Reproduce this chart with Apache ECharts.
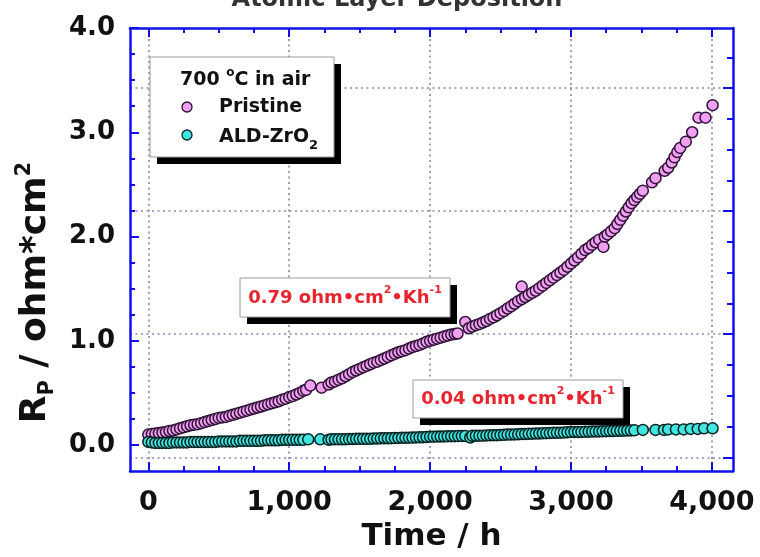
<!DOCTYPE html>
<html>
<head>
<meta charset="utf-8">
<title>Rp vs time - Atomic Layer Deposition</title>
<script src="https://cdn.jsdelivr.net/npm/echarts@6.0.0/dist/echarts.min.js"></script>
<style>
    html, body { margin: 0; padding: 0; background: #fff; }
    #rp_chart { width: 760px; height: 557px; }
</style>
</head>
<body>
<div id="rp_chart"></div>
<script>
// Pristine cell, [time h, Rp ohm*cm2]
var pristine = [
    [0, 0.10], [25, 0.105], [50, 0.11], [75, 0.115], [100, 0.12], [125, 0.125], [150, 0.135],
    [175, 0.14], [200, 0.15], [225, 0.16], [250, 0.17], [275, 0.18], [300, 0.19], [325, 0.195],
    [350, 0.20], [375, 0.21], [400, 0.22], [425, 0.23], [450, 0.24], [475, 0.25], [500, 0.26],
    [525, 0.265], [550, 0.27], [575, 0.28], [600, 0.29], [625, 0.30], [650, 0.31], [675, 0.32],
    [700, 0.33], [725, 0.34], [750, 0.35], [775, 0.36], [800, 0.37], [825, 0.38], [850, 0.39],
    [875, 0.40], [900, 0.41], [925, 0.42], [950, 0.435], [975, 0.445], [1000, 0.46],
    [1025, 0.47], [1050, 0.485], [1075, 0.50], [1100, 0.52], [1120, 0.53], [1150, 0.57],
    [1230, 0.55], [1280, 0.58], [1300, 0.60], [1325, 0.61], [1350, 0.625], [1375, 0.64],
    [1400, 0.66], [1425, 0.68], [1450, 0.70], [1475, 0.715], [1500, 0.73], [1525, 0.745],
    [1550, 0.76], [1575, 0.775], [1600, 0.79], [1625, 0.80], [1650, 0.815], [1675, 0.83],
    [1700, 0.845], [1725, 0.86], [1750, 0.875], [1775, 0.89], [1800, 0.90], [1825, 0.91],
    [1850, 0.925], [1875, 0.94], [1900, 0.95], [1925, 0.96], [1950, 0.975], [1975, 0.99],
    [2000, 1.00], [2025, 1.01], [2050, 1.02], [2075, 1.03], [2100, 1.04], [2125, 1.05],
    [2150, 1.06], [2175, 1.065], [2195, 1.07], [2250, 1.18], [2275, 1.12], [2300, 1.135],
    [2325, 1.15], [2350, 1.16], [2375, 1.175], [2400, 1.19], [2425, 1.21], [2450, 1.225],
    [2475, 1.245], [2500, 1.265], [2525, 1.285], [2550, 1.31], [2575, 1.33], [2600, 1.355],
    [2625, 1.38], [2650, 1.52], [2652, 1.40], [2675, 1.42], [2700, 1.44], [2725, 1.46],
    [2750, 1.48], [2775, 1.505], [2800, 1.53], [2825, 1.555], [2850, 1.58], [2875, 1.605],
    [2900, 1.63], [2925, 1.655], [2950, 1.68], [2975, 1.71], [3000, 1.74], [3025, 1.77],
    [3050, 1.80], [3075, 1.835], [3100, 1.87], [3125, 1.89], [3150, 1.92], [3175, 1.945],
    [3200, 1.97], [3230, 1.90], [3240, 2.00], [3260, 2.02], [3285, 2.05], [3310, 2.08],
    [3330, 2.12], [3350, 2.16], [3370, 2.20], [3390, 2.24], [3410, 2.28], [3430, 2.32],
    [3450, 2.35], [3470, 2.38], [3490, 2.41], [3510, 2.44], [3575, 2.52], [3600, 2.56],
    [3665, 2.63], [3690, 2.66], [3715, 2.71], [3735, 2.76], [3755, 2.81], [3775, 2.85],
    [3815, 2.91], [3860, 3.00], [3905, 3.14], [3955, 3.14], [4005, 3.26]
];

// ALD-ZrO2 coated cell
var aldZrO2 = [
    [0, 0.03], [25, 0.025], [50, 0.02], [75, 0.02], [100, 0.02], [125, 0.02], [150, 0.02],
    [175, 0.025], [200, 0.025], [225, 0.025], [250, 0.025], [275, 0.025], [300, 0.03],
    [325, 0.03], [350, 0.03], [375, 0.03], [400, 0.03], [425, 0.03], [450, 0.03], [475, 0.03],
    [500, 0.035], [525, 0.035], [550, 0.035], [575, 0.035], [600, 0.035], [625, 0.035],
    [650, 0.04], [675, 0.04], [700, 0.04], [725, 0.04], [750, 0.04], [775, 0.04], [800, 0.04],
    [825, 0.045], [850, 0.045], [875, 0.045], [900, 0.045], [925, 0.045], [950, 0.05],
    [975, 0.05], [1000, 0.05], [1025, 0.05], [1050, 0.05], [1075, 0.05], [1100, 0.05],
    [1135, 0.055], [1220, 0.055], [1280, 0.05], [1300, 0.055], [1325, 0.055], [1350, 0.055],
    [1375, 0.055], [1400, 0.055], [1425, 0.057], [1450, 0.058], [1475, 0.06], [1500, 0.06],
    [1525, 0.06], [1550, 0.06], [1575, 0.06], [1600, 0.062], [1625, 0.063], [1650, 0.064],
    [1675, 0.065], [1700, 0.065], [1725, 0.066], [1750, 0.067], [1775, 0.068], [1800, 0.07],
    [1825, 0.07], [1850, 0.071], [1875, 0.072], [1900, 0.073], [1925, 0.074], [1950, 0.075],
    [1975, 0.077], [2000, 0.08], [2025, 0.08], [2050, 0.081], [2075, 0.082], [2100, 0.083],
    [2125, 0.084], [2150, 0.085], [2175, 0.085], [2200, 0.086], [2225, 0.086], [2250, 0.087],
    [2285, 0.072], [2300, 0.088], [2325, 0.089], [2350, 0.09], [2375, 0.09], [2400, 0.092],
    [2425, 0.093], [2450, 0.094], [2475, 0.095], [2500, 0.097], [2525, 0.098], [2550, 0.10],
    [2575, 0.10], [2600, 0.102], [2625, 0.103], [2650, 0.105], [2675, 0.106], [2700, 0.108],
    [2725, 0.109], [2750, 0.11], [2775, 0.111], [2800, 0.113], [2825, 0.114], [2850, 0.115],
    [2875, 0.117], [2900, 0.118], [2925, 0.119], [2950, 0.12], [2975, 0.122], [3000, 0.124],
    [3025, 0.125], [3050, 0.125], [3075, 0.126], [3100, 0.127], [3125, 0.128], [3150, 0.129],
    [3175, 0.13], [3200, 0.131], [3225, 0.132], [3250, 0.133], [3275, 0.134], [3300, 0.135],
    [3325, 0.136], [3350, 0.137], [3375, 0.138], [3400, 0.139], [3425, 0.14], [3450, 0.141],
    [3510, 0.145], [3600, 0.145], [3660, 0.145], [3690, 0.15], [3745, 0.15], [3800, 0.15],
    [3850, 0.155], [3900, 0.155], [3945, 0.16], [4005, 0.16]
];

// Ticks
var xTicks = [0, 1000, 2000, 3000, 4000];
var xMinorTicks = [250, 500, 750, 1250, 1500, 1750, 2250, 2500, 2750, 3250, 3500, 3750];
var yTicks = [0, 1, 2, 3, 4];
var yMinorTicks = [0.25, 0.5, 0.75, 1.25, 1.5, 1.75, 2.25, 2.5, 2.75, 3.25, 3.5, 3.75];
// right hand axis (carries the dotted horizontal grid) uses its own scale
var gridTicks = [0, 1, 2, 3];
var gridMinorTicks = [0.25, 0.5, 0.75, 1.25, 1.5, 1.75, 2.25, 2.5, 2.75, 3.25];

var slopeLabels = ['0.79', '0.04'];

var blue = '#1010ee';
var font = 'DejaVu Sans';
var red = '#e8242c';

var element = document.getElementById('rp_chart');
var chart = echarts.init(element);

// frame axis helper
var frameAxis = function (position, min, max, ticks, len, showLine) {
    return {
        type: 'value',
        position: position,
        min: min,
        max: max,
        axisLine: { show: showLine, onZero: false, lineStyle: { color: blue, width: 2.5 } },
        axisTick: { show: true, inside: true, length: len, customValues: ticks,
            lineStyle: { color: blue, width: 2 } },
        axisLabel: { show: false },
        splitLine: { show: false }
    };
};

var dotted = { color: '#8585b5', width: 1.6, type: [2, 3.5] };

var xMain = frameAxis('bottom', -130, 4150, xTicks, 9, true);
xMain.axisLabel = {
    show: true, customValues: xTicks, margin: 18,
    fontFamily: font, fontWeight: 'bold', fontSize: 27, color: '#111',
    formatter: function (v) { return String(v).replace(/\B(?=(\d{3})+(?!\d))/g, ','); }
};
xMain.splitLine = { show: true, lineStyle: dotted };
xMain.name = 'Time / h';
xMain.nameLocation = 'middle';
xMain.nameGap = 47;
xMain.nameTextStyle = { fontFamily: font, fontWeight: 'bold', fontSize: 31, color: '#111',
    verticalAlign: 'top' };

var yMain = frameAxis('left', -0.25, 4, yTicks, 9, true);
yMain.axisLabel = {
    show: true, customValues: yTicks, margin: 15,
    fontFamily: font, fontWeight: 'bold', fontSize: 26, color: '#111',
    formatter: function (v) { return v.toFixed(1); }
};
yMain.name = '{r|R}{sub|P}{r| / ohm*cm}{sup|2}';
yMain.nameLocation = 'middle';
yMain.nameGap = 57;
yMain.nameTextStyle = {
    padding: [0, 86, 0, 0],
    rich: {
        r: { fontFamily: font, fontWeight: 'bold', fontSize: 36, color: '#111', lineHeight: 44 },
        sub: { fontFamily: font, fontWeight: 'bold', fontSize: 21, color: '#111', lineHeight: 21, verticalAlign: 'bottom' },
        sup: { fontFamily: font, fontWeight: 'bold', fontSize: 21, color: '#111', lineHeight: 21, verticalAlign: 'top' }
    }
};

var yRight = frameAxis('right', -0.112, 3.488, gridTicks, 10, true);
yRight.splitLine = { show: true, lineStyle: dotted };

var slopeText = function (value) {
    return '{a|' + value + ' ohm\u2022cm}{s|2}{a|\u2022Kh}{s|-1}';
};
var slopeRich = {
    a: { fontFamily: font, fontWeight: 'bold', fontSize: 18, fill: red, lineHeight: 26 },
    s: { fontFamily: font, fontWeight: 'bold', fontSize: 11, fill: red, lineHeight: 14, verticalAlign: 'top' }
};

// box with hard black shadow
var shadowBox = function (x, y, w, h) {
    return [
        { type: 'rect', z: 100, shape: { x: x + 7, y: y + 7, width: w, height: h }, style: { fill: '#000' } },
        { type: 'rect', z: 101, shape: { x: x, y: y, width: w, height: h },
          style: { fill: '#fff', stroke: '#9a9a9a', lineWidth: 1 } }
    ];
};

var graphics = [].concat(
    shadowBox(150, 57, 184, 100),
    shadowBox(240, 278, 210, 39),
    shadowBox(413, 380, 210, 38),
    [
        { type: 'text', z: 102, style: { x: 397, y: 12, text: 'Atomic Layer Deposition',
            font: 'bold 24px "DejaVu Sans"', fill: '#333', align: 'center', verticalAlign: 'bottom' } },
        { type: 'text', z: 102, style: { x: 180, y: 80,
            text: '{a|700 }{o|o}{a|C in air}', align: 'left', verticalAlign: 'middle',
            rich: {
                a: { fontFamily: font, fontWeight: 'bold', fontSize: 19, fill: '#111', lineHeight: 26 },
                o: { fontFamily: font, fontWeight: 'bold', fontSize: 12, fill: '#111', lineHeight: 14, verticalAlign: 'top' }
            } } },
        { type: 'circle', z: 102, shape: { cx: 187, cy: 107, r: 5 },
          style: { fill: '#f0a0f0', stroke: '#2a1030', lineWidth: 1.3 } },
        { type: 'text', z: 102, style: { x: 219, y: 107, text: 'Pristine',
            font: 'bold 19px "DejaVu Sans"', fill: '#111', align: 'left', verticalAlign: 'middle' } },
        { type: 'circle', z: 102, shape: { cx: 187, cy: 135, r: 5 },
          style: { fill: '#40e6e0', stroke: '#0a2828', lineWidth: 1.3 } },
        { type: 'text', z: 102, style: { x: 219, y: 137,
            text: '{a|ALD-ZrO}{b|2}', align: 'left', verticalAlign: 'middle',
            rich: {
                a: { fontFamily: font, fontWeight: 'bold', fontSize: 19, fill: '#111', lineHeight: 30 },
                b: { fontFamily: font, fontWeight: 'bold', fontSize: 13, fill: '#111', lineHeight: 14, verticalAlign: 'bottom' }
            } } },
        { type: 'text', z: 102, style: { x: 345, y: 298, text: slopeText(slopeLabels[0]),
            align: 'center', verticalAlign: 'middle', rich: slopeRich } },
        { type: 'text', z: 102, style: { x: 518, y: 399, text: slopeText(slopeLabels[1]),
            align: 'center', verticalAlign: 'middle', rich: slopeRich } }
    ]
);

chart.setOption({
    animation: false,
    grid: { left: 130, right: 27, top: 28, bottom: 80 },
    xAxis: [
        xMain,
        frameAxis('bottom', -130, 4150, xMinorTicks, 5, false),
        frameAxis('top', -130, 4150, xTicks, 9, true),
        frameAxis('top', -130, 4150, xMinorTicks, 5, false)
    ],
    yAxis: [
        yMain,
        frameAxis('left', -0.25, 4, yMinorTicks, 5, false),
        yRight,
        frameAxis('right', -0.112, 3.488, gridMinorTicks, 6, false)
    ],
    series: [
        {
            name: 'Pristine',
            type: 'scatter',
            data: pristine,
            symbolSize: 11,
            itemStyle: { color: '#f0a0f0', borderColor: '#301238', borderWidth: 1.5, opacity: 1 }
        },
        {
            name: 'ALD-ZrO2',
            type: 'scatter',
            data: aldZrO2,
            symbolSize: 11,
            itemStyle: { color: '#40e6e0', borderColor: '#082222', borderWidth: 1.5, opacity: 1 }
        }
    ],
    graphic: graphics
});
</script>
</body>
</html>
